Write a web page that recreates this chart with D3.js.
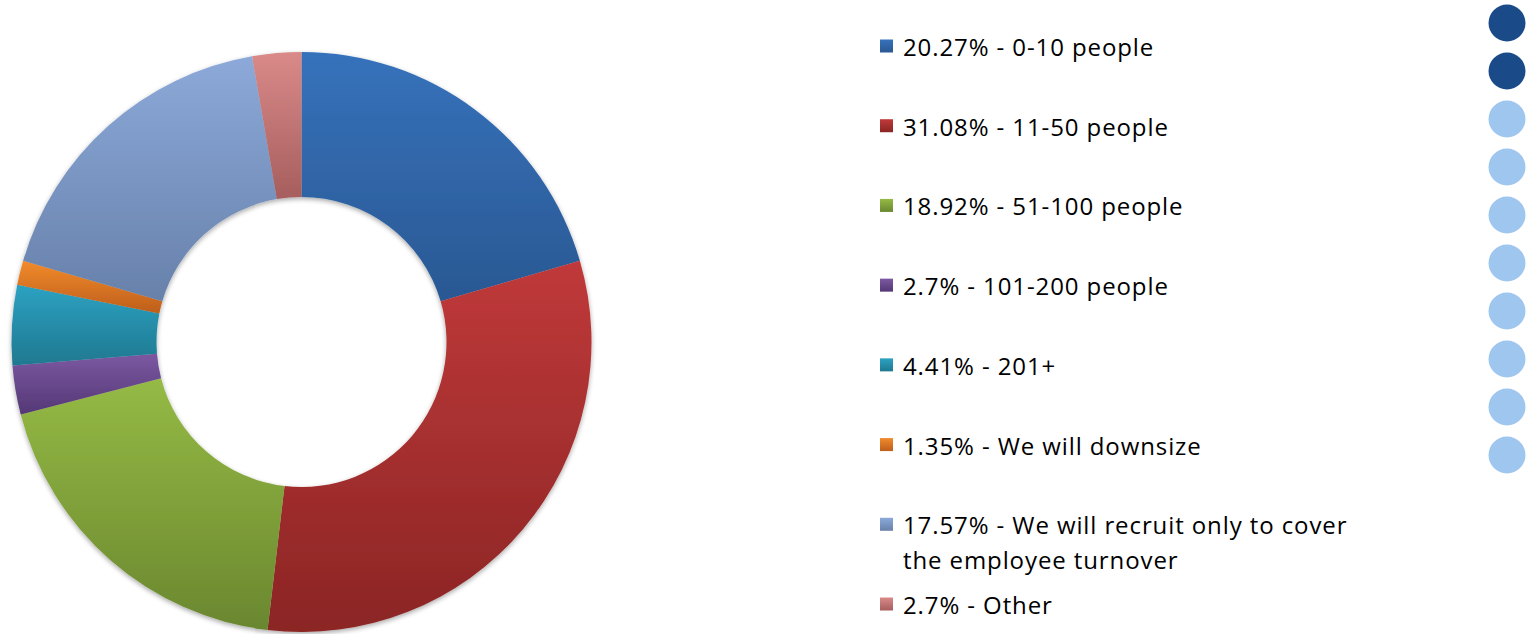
<!DOCTYPE html>
<html>
<head>
<meta charset="utf-8">
<script src="https://cdn.jsdelivr.net/npm/d3@7"></script>
<style>
html,body{margin:0;padding:0;background:#fff;}
svg{display:block;}
</style>
</head>
<body>
<svg id="chart" width="1537" height="634"></svg>
<script>
const categories = ["0-10 people","11-50 people","51-100 people","101-200 people","201+","We will downsize","We will recruit only to cover the employee turnover","Other"];
const values = [20.27, 31.08, 18.92, 2.7, 4.41, 1.35, 17.57, 2.7];
const legendLines = [
  ["20.27% - 0-10 people"],
  ["31.08% - 11-50 people"],
  ["18.92% - 51-100 people"],
  ["2.7% - 101-200 people"],
  ["4.41% - 201+"],
  ["1.35% - We will downsize"],
  ["17.57% - We will recruit only to cover","the employee turnover"],
  ["2.7% - Other"]
];
const topColors = ["#3672bb","#c0393a","#95ba45","#7c58a2","#2ca2c2","#f28b2c","#8ca9d9","#d98a89"];
const bottomColors = ["#2a5893","#8b2524","#6a872f","#543875","#1f7890","#bd5e1b","#6781aa","#a65e5d"];
const pageDots = [1,1,0,0,0,0,0,0,0,0];

const svg = d3.select("#chart");
const defs = svg.append("defs");

const cx = 301.5, cy = 342, R = 290, r = 145;

const f = defs.append("filter").attr("id","sh").attr("x","-10%").attr("y","-10%").attr("width","120%").attr("height","120%");
f.append("feGaussianBlur").attr("in","SourceAlpha").attr("stdDeviation",2.5).attr("result","b");
f.append("feOffset").attr("in","b").attr("dx",0).attr("dy",2).attr("result","o");
f.append("feComponentTransfer").attr("in","o").attr("result","o2").append("feFuncA").attr("type","linear").attr("slope",0.35);
const fm = f.append("feMerge");
fm.append("feMergeNode").attr("in","o2");
fm.append("feMergeNode").attr("in","SourceGraphic");

values.forEach((v,i)=>{
  const g = defs.append("linearGradient").attr("id","g"+i).attr("x1",0).attr("y1",0).attr("x2",0).attr("y2",1);
  g.append("stop").attr("offset","0%").attr("stop-color",topColors[i]);
  g.append("stop").attr("offset","100%").attr("stop-color",bottomColors[i]);
});

const pie = d3.pie().sort(null).value(d=>d)(values);
const arc = d3.arc().innerRadius(r).outerRadius(R);

const pg = svg.append("g").attr("transform",`translate(${cx},${cy})`).attr("filter","url(#sh)");
pg.selectAll("path").data(pie).join("path")
  .attr("d",arc)
  .attr("fill",(d,i)=>`url(#g${i})`);

// legend
const ly = d3.scalePoint().domain(d3.range(categories.length)).range([46,604]);
const lg = svg.append("g");
const items = lg.selectAll("g").data(categories).join("g")
  .attr("transform",(d,i)=>`translate(880,${ly(i)})`);
items.append("rect").attr("x",0).attr("y",-6.5).attr("width",13).attr("height",13)
  .attr("fill",(d,i)=>`url(#g${i})`);
items.each(function(d,i){
  const t = d3.select(this).append("text").attr("x",23).attr("y",0)
    .attr("dominant-baseline","central")
    .style("font-family","'Open Sans', sans-serif").style("font-size","24px")
    .style("letter-spacing","0.9px").style("fill","#000");
  legendLines[i].forEach((ln,j)=>{
    t.append("tspan").attr("x",23).attr("dy", j===0?0:35).text(ln);
  });
});

// page dots
const dy = d3.scaleLinear().domain([0,pageDots.length-1]).range([23,455]);
svg.append("g").selectAll("circle").data(pageDots).join("circle")
  .attr("cx",1507).attr("cy",(d,i)=>dy(i)).attr("r",18.5)
  .attr("fill",d=>d? "#1a4a88":"#9ec6ef");
</script>
</body>
</html>
